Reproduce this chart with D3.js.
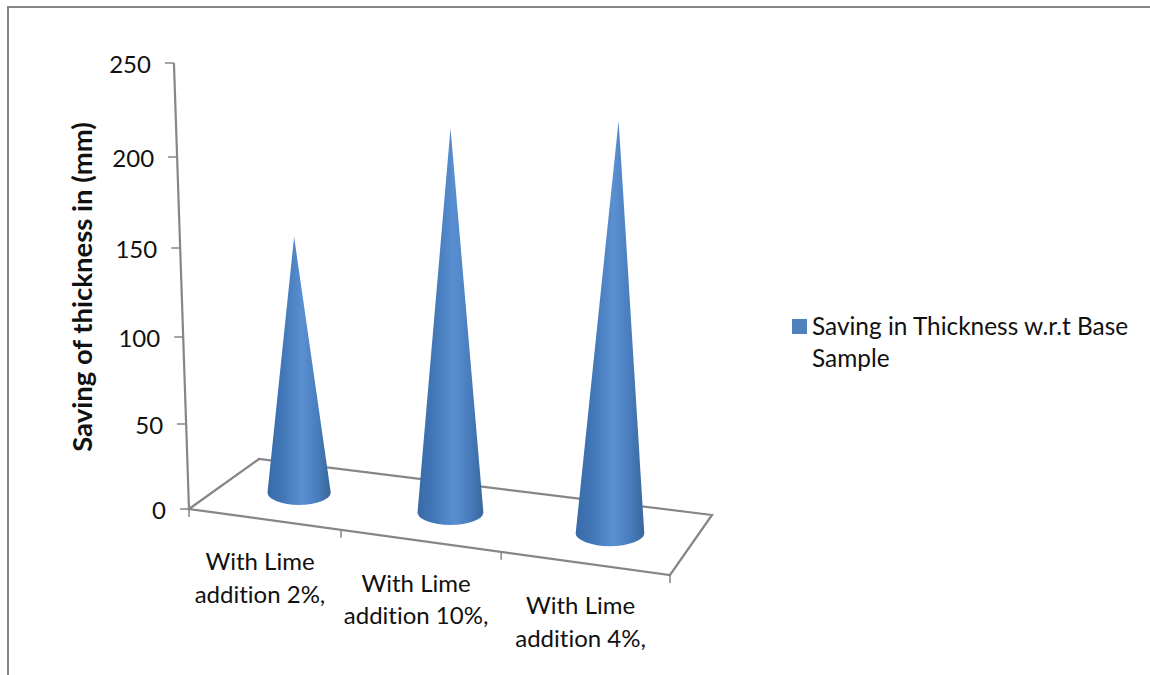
<!DOCTYPE html>
<html>
<head>
<meta charset="utf-8">
<script src="https://cdn.jsdelivr.net/npm/d3@7/dist/d3.min.js"></script>
<style>
  html, body { margin: 0; padding: 0; background: #fff; }
  svg { display: block; }
  text { font-family: Lato, "Open Sans", sans-serif; fill: #111; font-variant-ligatures: none; }
</style>
</head>
<body>
<svg id="chart" width="1150" height="675"></svg>
<script>
// Chart data
const categories = [["With Lime", "addition 2%,"], ["With Lime", "addition 10%,"], ["With Lime", "addition 4%,"]];
const savings = [147, 209, 215];
const valueTicks = [0, 50, 100, 150, 200, 250];
const seriesName = ["Saving in Thickness w.r.t Base", "Sample"];
const yTitle = "Saving of thickness in (mm)";

const svg = d3.select("#chart");
const GREY = "#868686";

// Perspective of the 3D scene: floor corners and the vertical axis rise at each tick
const floor = {
  frontLeft: [189, 509], frontRight: [670, 575],
  backLeft: [259, 459], backRight: [712, 515]
};
const rise = d3.scaleLinear().domain(valueTicks).range([0, 85, 172, 261, 352, 446]);
// Band edges along the floor are foreshortened towards the left
const bandEdge = d3.scaleLinear().domain([0, 1, 2, 3]).range([0, 0.316, 0.649, 1]);
// Vertical edges converge on one vanishing point under the plot
const lean = x => (x - 449) * 0.00013;

const mix = (a, b, t) => [a[0] + (b[0] - a[0]) * t, a[1] + (b[1] - a[1]) * t];
const onFloor = (u, v) => mix(mix(floor.frontLeft, floor.frontRight, u), mix(floor.backLeft, floor.backRight, u), v);
const up = (p, value, m = 1) => {
  const h = rise(value) * m;
  return [p[0] + lean(p[0]) * h, p[1] - h];
};

// Chart frame, clipped by the image on the right and bottom
svg.append("path")
  .attr("d", "M8,675V7H1150")
  .attr("fill", "none").attr("stroke", GREY).attr("stroke-width", 2);

// Floor outline
const line = d3.line();
svg.append("path")
  .attr("d", line([floor.frontLeft, floor.backLeft, floor.backRight, floor.frontRight]) + "Z")
  .attr("fill", "#fff").attr("stroke", GREY).attr("stroke-width", 2.2);

// Category ticks on the front edge
d3.range(0, 4).forEach(i => {
  const p = onFloor(bandEdge(i), 0);
  svg.append("line")
    .attr("x1", p[0]).attr("x2", p[0]).attr("y1", p[1]).attr("y2", p[1] + 8)
    .attr("stroke", GREY).attr("stroke-width", 1.5);
});

// Value axis, leaning with the perspective
svg.append("path")
  .attr("d", line([up(floor.frontLeft, 0), up(floor.frontLeft, 250)]))
  .attr("stroke", GREY).attr("stroke-width", 2.2).attr("fill", "none");

valueTicks.forEach(t => {
  const p = up(floor.frontLeft, t);
  svg.append("line")
    .attr("x1", p[0] - 9).attr("x2", p[0]).attr("y1", p[1]).attr("y2", p[1])
    .attr("stroke", GREY).attr("stroke-width", 1.5);
  svg.append("text")
    .attr("x", p[0] - 23).attr("y", p[1] + 1)
    .attr("dy", "0.36em")
    .attr("text-anchor", "end")
    .attr("font-size", 24)
    .text(t);
});

// Axis title
svg.append("text")
  .attr("transform", "translate(92,287) rotate(-90)")
  .attr("text-anchor", "middle")
  .attr("font-size", 27.5)
  .attr("font-weight", 700)
  .text(yTitle);

// Horizontal shading that gives each cone its round look
const defs = svg.append("defs");
const shade = defs.append("linearGradient").attr("id", "coneShade")
  .attr("x1", 0).attr("x2", 1).attr("y1", 0).attr("y2", 0);
[[0, "#386aa8"], [0.25, "#4277b8"], [0.55, "#5a8fd1"], [0.8, "#487cbc"], [1, "#386699"]]
  .forEach(([o, c]) => shade.append("stop").attr("offset", o).attr("stop-color", c));

// Cones, standing on the floor
savings.forEach((value, i) => {
  const u = bandEdge(i + 0.5);
  const base = onFloor(u, 0.52);
  const rx = 31 + 4 * u;
  const ry = 12.2 + 1 * u;
  const apex = up(base, value, rx / 31.6);
  // Silhouette: tip, down to the left tangent, round the front of the base, back up
  const shape = `M${apex[0]},${apex[1]}L${base[0] - rx},${base[1]}` +
    `A${rx},${ry} 0 0 0 ${base[0] + rx},${base[1]}Z`;
  svg.append("path").attr("d", shape).attr("fill", "url(#coneShade)");
});

// Category labels
categories.forEach((lines, i) => {
  const p = onFloor(bandEdge(i + 0.5), 0);
  const label = svg.append("text")
    .attr("text-anchor", "middle")
    .attr("font-size", 24);
  lines.forEach((s, k) => {
    label.append("tspan")
      .attr("x", p[0] - 5)
      .attr("y", p[1] + 51 + k * 32.5)
      .text(s);
  });
});

// Legend
svg.append("rect")
  .attr("x", 792).attr("y", 319).attr("width", 15).attr("height", 15)
  .attr("fill", "#4f81bd");
const legend = svg.append("text").attr("font-size", 24.4);
seriesName.forEach((s, k) => {
  legend.append("tspan").attr("x", 812).attr("y", 335 + k * 32).text(s);
});
</script>
</body>
</html>
